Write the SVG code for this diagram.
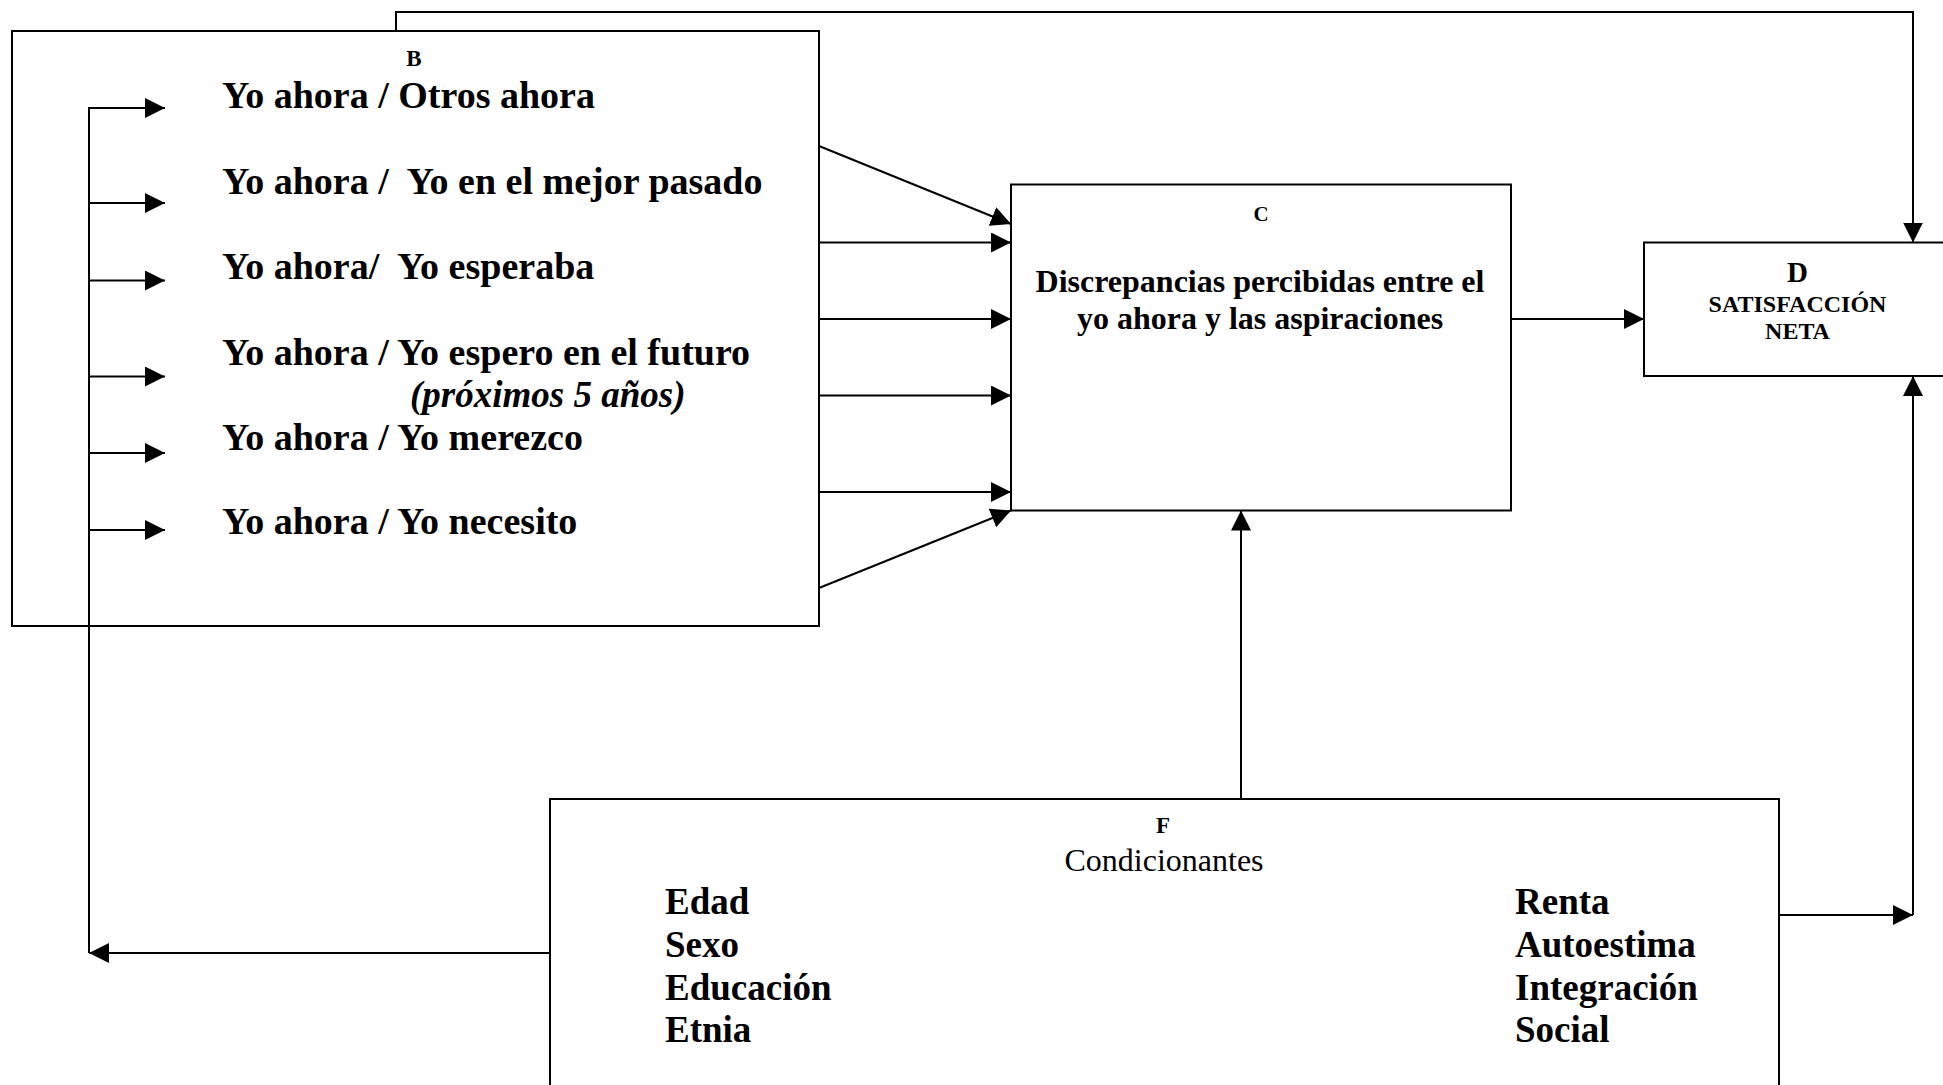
<svg xmlns="http://www.w3.org/2000/svg" width="1943" height="1085" viewBox="0 0 1943 1085">
<style>
  .box { fill: #ffffff; stroke: #000000; stroke-width: 2; }
  .ln { fill: none; stroke: #000000; stroke-width: 2; }
  .arr { fill: none; stroke: #000000; stroke-width: 2; marker-end: url(#ah); }
  text { font-family: "Liberation Serif", "Times New Roman", serif; fill: #000000; white-space: pre; }
  .big { font-size: 38px; font-weight: bold; }
  .lst { font-size: 37px; font-weight: bold; }
  .lab { font-size: 23px; font-weight: bold; text-anchor: middle; }
  .mid { font-size: 32px; font-weight: bold; text-anchor: middle; }
</style>
<defs>
  <marker id="ah" viewBox="0 0 20 20" refX="20" refY="10" markerWidth="20" markerHeight="20" markerUnits="userSpaceOnUse" orient="auto">
    <path d="M0,0 L20,10 L0,20 z" fill="#000000"/>
  </marker>
</defs>
<rect x="0" y="0" width="1943" height="1085" fill="#ffffff"/>

<g id="node-B">
  <rect class="box" x="12" y="31" width="807" height="595"/>
  <text class="lab" x="414" y="66">B</text>
  <text class="big" x="222" y="108">Yo ahora / Otros ahora</text>
  <text class="big" x="222" y="193.5">Yo ahora /  Yo en el mejor pasado</text>
  <text class="big" x="222" y="278.5">Yo ahora/  Yo esperaba</text>
  <text class="big" x="222" y="364.5">Yo ahora / Yo espero en el futuro</text>
  <text class="lst" x="410" y="407" font-style="italic">(próximos 5 años)</text>
  <text class="big" x="222" y="450">Yo ahora / Yo merezco</text>
  <text class="big" x="222" y="534">Yo ahora / Yo necesito</text>
</g>

<g id="node-C">
  <rect class="box" x="1011" y="184.5" width="500" height="326"/>
  <text class="lab" x="1261" y="221" style="font-size:21px">C</text>
  <text class="mid" x="1260" y="292">Discrepancias percibidas entre el</text>
  <text class="mid" x="1260" y="328.5">yo ahora y las aspiraciones</text>
</g>

<g id="node-D">
  <rect class="box" x="1644" y="242.5" width="312" height="133.5"/>
  <text x="1797.5" y="281.5" style="font-size:29px;font-weight:bold;text-anchor:middle">D</text>
  <text x="1797.5" y="311.5" style="font-size:24px;font-weight:bold;text-anchor:middle">SATISFACCIÓN</text>
  <text x="1797.5" y="339" style="font-size:24px;font-weight:bold;text-anchor:middle">NETA</text>
</g>

<g id="node-F">
  <rect class="box" x="550" y="799" width="1229" height="300"/>
  <text class="lab" x="1163" y="833">F</text>
  <text x="1164" y="871" style="font-size:32px;text-anchor:middle">Condicionantes</text>
  <text class="lst" x="665" y="914">Edad</text>
  <text class="lst" x="665" y="957">Sexo</text>
  <text class="lst" x="665" y="1000">Educación</text>
  <text class="lst" x="665" y="1042">Etnia</text>
  <text class="lst" x="1515" y="914">Renta</text>
  <text class="lst" x="1515" y="957">Autoestima</text>
  <text class="lst" x="1515" y="999.5">Integración</text>
  <text class="lst" x="1515" y="1041.5">Social</text>
</g>

<g id="connectors">
  <path class="arr" d="M550,953 L89,953"/>
  <path class="ln" d="M89,953 L89,108"/>
  <path class="arr" d="M88,108 L165,108"/>
  <path class="arr" d="M88,203 L165,203"/>
  <path class="arr" d="M88,280.5 L165,280.5"/>
  <path class="arr" d="M88,376.5 L165,376.5"/>
  <path class="arr" d="M88,453 L165,453"/>
  <path class="arr" d="M88,530 L165,530"/>
  <path class="arr" d="M819,146 L1011,224"/>
  <path class="arr" d="M819,242.5 L1011,242.5"/>
  <path class="arr" d="M819,319 L1011,319"/>
  <path class="arr" d="M819,395.5 L1011,395.5"/>
  <path class="arr" d="M819,492 L1011,492"/>
  <path class="arr" d="M819,588 L1011,510.5"/>
  <path class="arr" d="M1511,319 L1644,319"/>
  <path class="arr" d="M1241,799 L1241,510.5"/>
  <path class="arr" d="M396,31 L396,12 L1913,12 L1913,242.5"/>
  <path class="arr" d="M1779,915 L1913,915"/>
  <path class="arr" d="M1913,915 L1913,376"/>
</g>
</svg>
